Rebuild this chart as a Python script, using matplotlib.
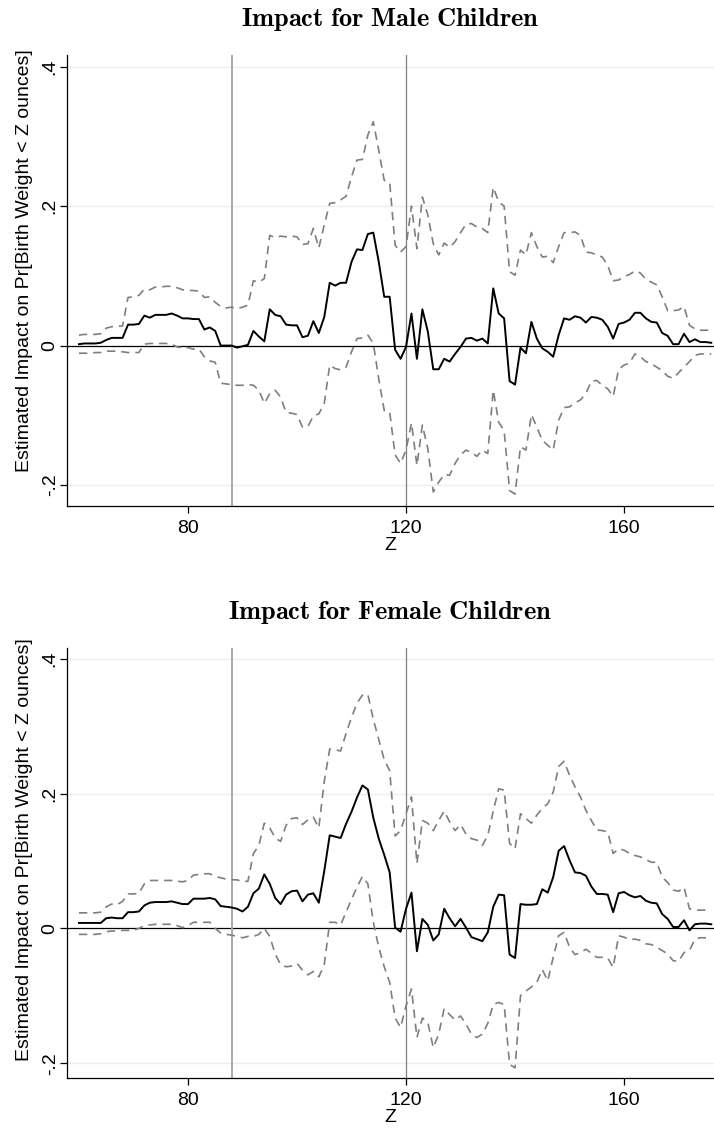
import matplotlib
matplotlib.use("Agg")
import matplotlib.pyplot as plt
import numpy as np

plt.rcParams['font.family'] = ['Liberation Sans', 'DejaVu Sans']
plt.rcParams['mathtext.fontset'] = 'cm'

# Z (ounces), one point per ounce
z = np.arange(60, 177)

# Male children: estimate and 95% bounds
male_est = [
    0.002, 0.003, 0.003, 0.003, 0.004, 0.008, 0.011, 0.011, 0.011, 0.030,
    0.030, 0.031, 0.043, 0.040, 0.044, 0.044, 0.044, 0.046, 0.043, 0.039,
    0.039, 0.038, 0.038, 0.023, 0.026, 0.021, 0.000, 0.000, 0.000, -0.003,
    -0.001, 0.001, 0.021, 0.013, 0.006, 0.052, 0.044, 0.042, 0.030, 0.029,
    0.029, 0.012, 0.014, 0.035, 0.018, 0.041, 0.090, 0.086, 0.090, 0.090,
    0.120, 0.138, 0.137, 0.160, 0.162, 0.120, 0.070, 0.070, -0.006, -0.019,
    -0.002, 0.046, -0.019, 0.052, 0.020, -0.034, -0.034, -0.019, -0.023, -0.012,
    -0.002, 0.010, 0.011, 0.007, 0.010, 0.003, 0.082, 0.046, 0.039, -0.051,
    -0.056, -0.003, -0.011, 0.034, 0.010, -0.004, -0.009, -0.016, 0.015, 0.039,
    0.037, 0.042, 0.040, 0.033, 0.041, 0.040, 0.037, 0.027, 0.010, 0.031,
    0.033, 0.037, 0.047, 0.047, 0.039, 0.034, 0.033, 0.018, 0.014, 0.002,
    0.002, 0.017, 0.005, 0.009, 0.005, 0.005, 0.004,
]
male_hi = [
    0.015, 0.016, 0.016, 0.016, 0.017, 0.025, 0.027, 0.028, 0.028, 0.069,
    0.070, 0.072, 0.081, 0.080, 0.084, 0.084, 0.085, 0.085, 0.083, 0.080,
    0.079, 0.079, 0.078, 0.069, 0.070, 0.062, 0.056, 0.054, 0.055, 0.053,
    0.055, 0.058, 0.093, 0.091, 0.096, 0.158, 0.155, 0.157, 0.156, 0.157,
    0.156, 0.145, 0.146, 0.168, 0.140, 0.173, 0.204, 0.205, 0.209, 0.214,
    0.242, 0.266, 0.267, 0.302, 0.321, 0.280, 0.237, 0.234, 0.144, 0.134,
    0.142, 0.200, 0.139, 0.213, 0.187, 0.146, 0.130, 0.147, 0.141, 0.149,
    0.162, 0.174, 0.175, 0.170, 0.168, 0.162, 0.227, 0.206, 0.200, 0.106,
    0.101, 0.137, 0.130, 0.162, 0.142, 0.127, 0.128, 0.119, 0.142, 0.162,
    0.162, 0.163, 0.158, 0.134, 0.133, 0.130, 0.127, 0.115, 0.093, 0.094,
    0.099, 0.102, 0.107, 0.104, 0.095, 0.091, 0.087, 0.070, 0.050, 0.050,
    0.051, 0.056, 0.029, 0.024, 0.022, 0.022, 0.022,
]
male_lo = [
    -0.011, -0.011, -0.011, -0.010, -0.010, -0.008, -0.008, -0.008, -0.009, -0.010,
    -0.010, -0.010, 0.002, 0.003, 0.003, 0.003, 0.003, 0.002, -0.002, -0.003,
    -0.003, -0.005, -0.005, -0.016, -0.022, -0.024, -0.054, -0.055, -0.056, -0.057,
    -0.057, -0.056, -0.057, -0.064, -0.083, -0.069, -0.064, -0.074, -0.096, -0.097,
    -0.099, -0.117, -0.116, -0.101, -0.098, -0.083, -0.028, -0.033, -0.035, -0.031,
    -0.009, 0.010, 0.011, 0.015, 0.003, -0.048, -0.093, -0.095, -0.157, -0.169,
    -0.150, -0.111, -0.172, -0.114, -0.148, -0.210, -0.196, -0.185, -0.186, -0.169,
    -0.157, -0.150, -0.153, -0.159, -0.150, -0.155, -0.064, -0.110, -0.122, -0.208,
    -0.213, -0.145, -0.150, -0.099, -0.117, -0.136, -0.143, -0.150, -0.107, -0.089,
    -0.088, -0.082, -0.078, -0.069, -0.051, -0.050, -0.057, -0.062, -0.073, -0.034,
    -0.028, -0.025, -0.012, -0.016, -0.023, -0.026, -0.031, -0.036, -0.044, -0.047,
    -0.039, -0.031, -0.023, -0.014, -0.012, -0.012, -0.012,
]

# Female children: estimate and 95% bounds
female_est = [
    0.008, 0.008, 0.008, 0.008, 0.008, 0.015, 0.016, 0.015, 0.015, 0.024,
    0.024, 0.025, 0.034, 0.038, 0.039, 0.039, 0.039, 0.040, 0.038, 0.036,
    0.036, 0.044, 0.044, 0.044, 0.045, 0.043, 0.033, 0.032, 0.031, 0.029,
    0.025, 0.032, 0.052, 0.059, 0.080, 0.066, 0.045, 0.036, 0.050, 0.055,
    0.056, 0.040, 0.050, 0.052, 0.038, 0.085, 0.138, 0.136, 0.134, 0.155,
    0.173, 0.194, 0.212, 0.206, 0.164, 0.133, 0.109, 0.083, 0.001, -0.005,
    0.029, 0.053, -0.034, 0.014, 0.005, -0.018, -0.009, 0.029, 0.015, 0.003,
    0.014, 0.001, -0.013, -0.016, -0.019, -0.006, 0.032, 0.050, 0.049, -0.039,
    -0.044, 0.036, 0.035, 0.035, 0.036, 0.058, 0.053, 0.076, 0.115, 0.122,
    0.101, 0.083, 0.082, 0.078, 0.062, 0.051, 0.051, 0.050, 0.024, 0.052,
    0.054, 0.049, 0.046, 0.048, 0.041, 0.038, 0.037, 0.021, 0.014, 0.002,
    0.002, 0.012, -0.003, 0.006, 0.007, 0.007, 0.006,
]
female_hi = [
    0.023, 0.023, 0.023, 0.023, 0.024, 0.032, 0.036, 0.035, 0.040, 0.051,
    0.051, 0.052, 0.066, 0.071, 0.071, 0.071, 0.071, 0.071, 0.070, 0.069,
    0.071, 0.079, 0.080, 0.081, 0.081, 0.077, 0.075, 0.073, 0.072, 0.072,
    0.069, 0.070, 0.111, 0.123, 0.156, 0.149, 0.134, 0.129, 0.153, 0.163,
    0.164, 0.154, 0.161, 0.165, 0.149, 0.218, 0.266, 0.265, 0.263, 0.289,
    0.313, 0.334, 0.346, 0.347, 0.310, 0.280, 0.250, 0.234, 0.137, 0.145,
    0.170, 0.195, 0.096, 0.160, 0.156, 0.145, 0.160, 0.174, 0.158, 0.145,
    0.154, 0.140, 0.133, 0.131, 0.123, 0.138, 0.174, 0.207, 0.205, 0.126,
    0.118, 0.170, 0.163, 0.156, 0.168, 0.178, 0.185, 0.202, 0.240, 0.248,
    0.227, 0.210, 0.195, 0.175, 0.160, 0.146, 0.145, 0.143, 0.111, 0.118,
    0.116, 0.111, 0.108, 0.106, 0.102, 0.098, 0.098, 0.076, 0.068, 0.057,
    0.055, 0.061, 0.029, 0.027, 0.027, 0.027, 0.027,
]
female_lo = [
    -0.009, -0.009, -0.009, -0.009, -0.008, -0.005, -0.004, -0.004, -0.003, -0.003,
    -0.003, 0.000, 0.004, 0.005, 0.006, 0.006, 0.006, 0.006, 0.004, 0.001,
    0.004, 0.009, 0.009, 0.009, 0.009, 0.000, -0.007, -0.009, -0.010, -0.012,
    -0.014, -0.012, -0.012, -0.009, 0.000, -0.012, -0.038, -0.054, -0.057, -0.056,
    -0.052, -0.062, -0.069, -0.064, -0.072, -0.054, 0.009, 0.009, 0.005, 0.024,
    0.043, 0.061, 0.077, 0.066, 0.009, -0.028, -0.057, -0.080, -0.133, -0.147,
    -0.115, -0.090, -0.162, -0.133, -0.140, -0.177, -0.157, -0.119, -0.128, -0.136,
    -0.130, -0.142, -0.157, -0.162, -0.157, -0.141, -0.113, -0.110, -0.113, -0.202,
    -0.207, -0.100, -0.093, -0.087, -0.080, -0.061, -0.078, -0.043, -0.011, -0.006,
    -0.028, -0.039, -0.036, -0.031, -0.037, -0.043, -0.043, -0.044, -0.058, -0.011,
    -0.013, -0.017, -0.016, -0.018, -0.023, -0.024, -0.028, -0.033, -0.038, -0.048,
    -0.049, -0.036, -0.033, -0.016, -0.014, -0.014, -0.014,
]

yticks = [-0.2, 0, 0.2, 0.4]
ytick_labels = ['-.2', '0', '.2', '.4']
xticks = [80, 120, 160]
cutoffs = [88, 120]

panels = [
    (r'$\mathbf{Impact\ for\ Male\ Children}$', male_est, male_hi, male_lo,
     [0.0938, 0.5592, 0.9062, 0.3929], (-0.2302, 0.4168), 0.545),
    (r'$\mathbf{Impact\ for\ Female\ Children}$', female_est, female_hi, female_lo,
     [0.0938, 0.0610, 0.9062, 0.3746], (-0.222, 0.416), 0.53),
]

fig = plt.figure(figsize=(7.14, 11.48), dpi=100)

for title, est, hi, lo, rect, ylim, label_y in panels:
    ax = fig.add_axes(rect)

    # light horizontal grid like Stata
    for yt in yticks:
        if yt != 0:
            ax.axhline(yt, color='#e8f0f2', lw=1.0, zorder=0)
    ax.axhline(0, color='black', lw=0.9, zorder=1)
    ax.axvline(cutoffs[0], color='#a8a8a8', lw=1.4, zorder=1)
    ax.axvline(cutoffs[1], color='#808080', lw=0.9, zorder=1)

    ax.plot(z, hi, color='#7f7f7f', lw=1.2, ls=(0, (5, 3.5)), zorder=2)
    ax.plot(z, lo, color='#7f7f7f', lw=1.2, ls=(0, (5, 3.5)), zorder=2)
    ax.plot(z, est, color='black', lw=1.4, zorder=3)

    ax.set_xlim(57.8, 176.5)
    ax.set_ylim(*ylim)
    ax.set_xticks(xticks)
    ax.set_xticklabels([str(t) for t in xticks], fontsize=14)
    ax.set_yticks(yticks)
    ax.set_yticklabels(ytick_labels, fontsize=14, rotation=90, va='center')
    ax.tick_params(direction='out', length=5, width=0.9)
    ax.tick_params(axis='x', pad=5)
    ax.tick_params(axis='y', pad=1)

    for s in ['top', 'right']:
        ax.spines[s].set_visible(False)
    for s in ['left', 'bottom']:
        ax.spines[s].set_linewidth(0.9)

    ax.set_xlabel('Z', fontsize=14, labelpad=0)
    ax.set_ylabel('Estimated Impact on Pr[Birth Weight < Z ounces]', fontsize=14)
    ax.yaxis.set_label_coords(-0.052, label_y)
    ax.set_title(title, fontsize=19, pad=21)

fig.savefig('out.png', dpi=100)
